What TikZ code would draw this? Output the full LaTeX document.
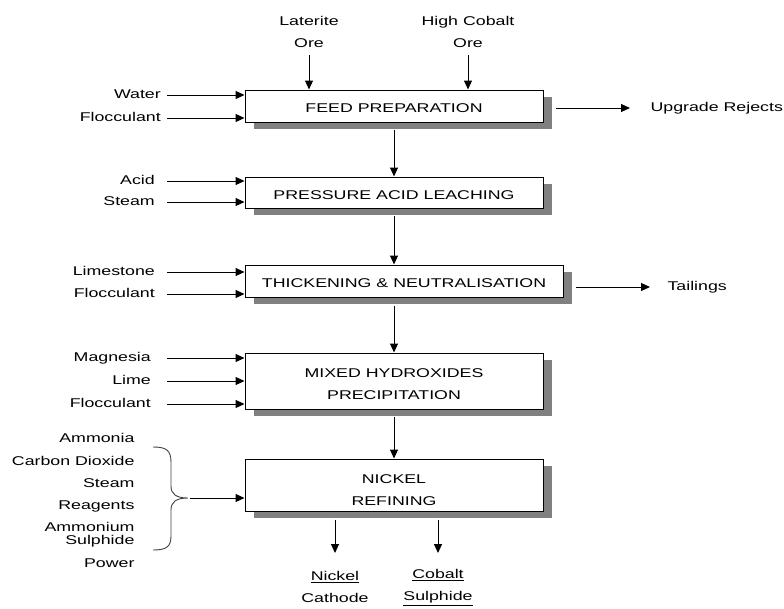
\documentclass[tikz,border=0pt]{standalone}
\usepackage{fontspec}
\setmainfont[FakeStretch=1.4]{Liberation Sans}
\usetikzlibrary{arrows.meta,shadows}

\begin{document}
\begin{tikzpicture}[x=1pt,y=-1pt,
		every node/.style={font=\fontsize{12.7pt}{22pt}\selectfont},
		stage/.style={draw,line width=1pt,fill=white,align=center,minimum width=298pt,text depth=0pt,
			drop shadow={shadow xshift=9pt,shadow yshift=-7pt,opacity=1,fill=black!50}},
		inlet/.style={anchor=east,text height=9pt,text depth=2.5pt,inner xsep=6pt},
		reagent/.style={anchor=east,align=right},
		flow/.style={line width=1pt,-{Triangle[length=9pt,width=8pt]}}]
	\useasboundingbox (0,0) rectangle (784,608);

	\node[stage,minimum height=32pt,text height=13pt] (prep) at (394,106) {FEED PREPARATION};
	\node[stage,minimum height=31pt,text height=13pt] (leach) at (394,192.5) {PRESSURE ACID LEACHING};
	\node[stage,minimum height=32pt,text height=13pt,minimum width=318pt] (thick) at (404,281) {THICKENING \& NEUTRALISATION};
	\node[stage,minimum height=56pt,text height=37pt] (mhp) at (394,381) {MIXED HYDROXIDES\\PRECIPITATION};
	\node[stage,minimum height=52pt,text height=40pt] (refine) at (394,485) {NICKEL\\REFINING};

	\node[align=center] (lat) at (309,32) {Laterite\\Ore};
	\node[align=center] (hco) at (468,32) {High Cobalt\\Ore};
	\draw[flow,shorten <=4pt] (lat.south) -- (lat.south |- prep.north);
	\draw[flow,shorten <=4pt] (hco.south) -- (hco.south |- prep.north);

	\node[inlet] (water) at (167,95) {Water};
	\node[inlet] (floc1) at (167,118) {Flocculant};
	\node[inlet,inner xsep=12pt] (acid) at (167,181) {Acid};
	\node[inlet,inner xsep=12pt] (steam) at (167,202) {Steam};
	\node[inlet,inner xsep=12pt] (lime1) at (167,272) {Limestone};
	\node[inlet,inner xsep=12pt] (floc2) at (167,294) {Flocculant};
	\node[inlet,inner xsep=16pt] (magn) at (167,358) {Magnesia};
	\node[inlet,inner xsep=16pt] (lime2) at (167,381) {Lime};
	\node[inlet,inner xsep=16pt] (floc3) at (167,404) {Flocculant};
	\foreach \n/\s in {water/prep,floc1/prep,acid/leach,steam/leach,lime1/thick,floc2/thick,magn/mhp,lime2/mhp,floc3/mhp}
		\draw[flow] (\n.east) -- (\n.east -| \s.west);

	\node[anchor=west] (rej) at (647,108) {Upgrade Rejects};
	\node[anchor=west] (tail) at (664,287) {Tailings};
	\draw[flow,shorten <=12pt,shorten >=17pt] (rej.west -| prep.east) -- (rej.west);
	\draw[flow,shorten <=12pt,shorten >=14pt] (tail.west -| thick.east) -- (tail.west);

	\draw[flow,shorten <=7pt] (prep.south) -- (leach.north);
	\draw[flow,shorten <=7pt] (leach.south) -- (leach.south |- thick.north);
	\draw[flow,shorten <=8pt] (thick.south -| mhp.north) -- (mhp.north);
	\draw[flow,shorten <=7pt] (mhp.south) -- (refine.north);

	\node[reagent] at (138,438) {Ammonia};
	\node[reagent] at (138,461) {Carbon Dioxide};
	\node[reagent] at (138,483) {Steam};
	\node[reagent] at (138,506) {Reagents};
	\node[reagent] at (138,535) {Ammonium\\[-9pt]Sulphide};
	\node[reagent] at (138,563) {Power};
	\coordinate (tip) at (188,498);
	\draw[line width=0.9pt,black!75] (153,447) .. controls (166,447) and (171,450) .. (171,462)
		-- (171,486) .. controls (171,494) and (176,498) .. (tip)
		.. controls (176,498) and (171,502) .. (171,510)
		-- (171,536) .. controls (171,547) and (166,550) .. (153,550);
	\draw[flow,shorten <=2pt] (tip) -- (tip -| refine.west);

	\node[align=center,anchor=north] (nic) at (335,568) {\underline{Nickel}\\Cathode};
	\node[align=center,anchor=north] (cob) at (438,566) {\underline{Cobalt}\\\underline{Sulphide}};
	\draw[flow,shorten <=8pt,shorten >=15pt] (refine.south -| nic.north) -- (nic.north);
	\draw[flow,shorten <=8pt,shorten >=13pt] (refine.south -| cob.north) -- (cob.north);
\end{tikzpicture}
\end{document}
